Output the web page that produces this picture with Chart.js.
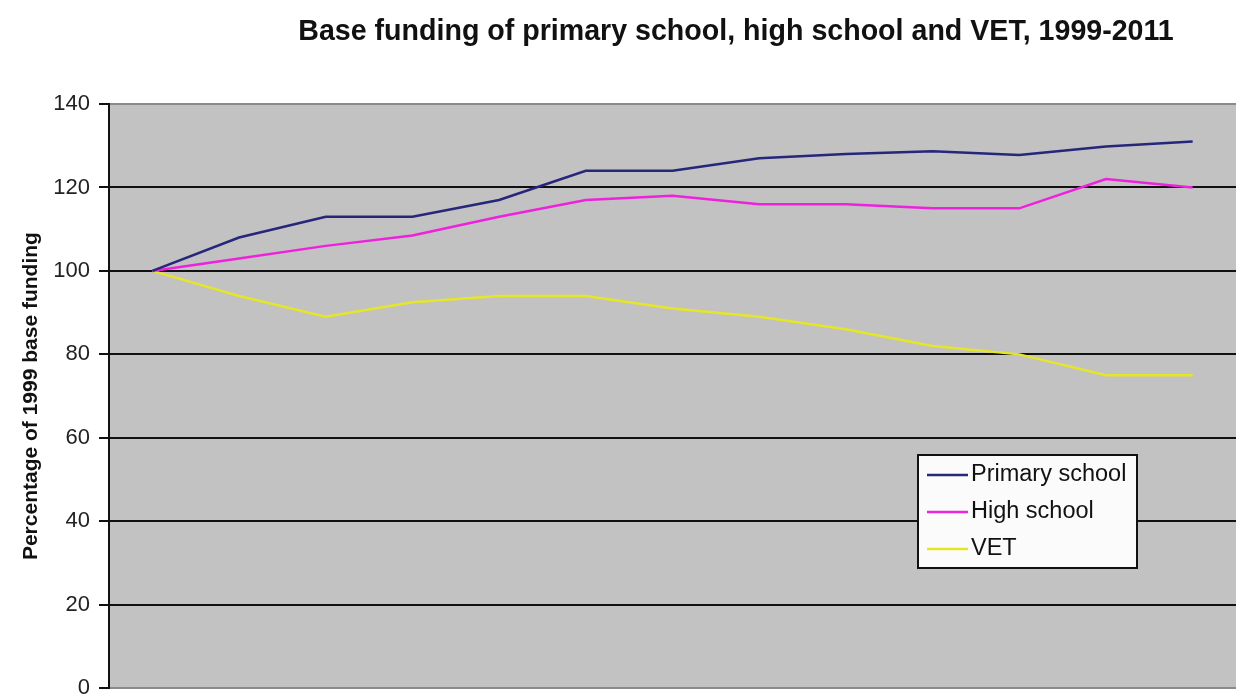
<!DOCTYPE html>
<html>
<head>
<meta charset="utf-8">
<script src="https://cdn.jsdelivr.net/npm/chart.js@4.4.1/dist/chart.umd.min.js"></script>
<style>
  html, body { margin: 0; padding: 0; background: #fff; overflow: hidden; }
  /* the original is cropped just under the 0 line, so the canvas runs a little past the window */
  #wrap { width: 1236px; height: 698px; overflow: hidden; }
</style>
</head>
<body>
<div id="wrap"><canvas id="chart" width="1236" height="706"></canvas></div>
<script>
// Data (index 1999 = 100)
var years = ['1999', '2000', '2001', '2002', '2003', '2004', '2005', '2006', '2007', '2008', '2009', '2010', '2011'];
var primarySchool = [100, 108, 113, 113, 117, 124, 124, 127, 128, 128.7, 127.8, 129.8, 131];
var highSchool = [100, 103, 106, 108.5, 113, 117, 118, 116, 116, 115, 115, 122, 120];
var vet = [100, 94, 89, 92.5, 94, 94, 91, 89, 86, 82, 80, 75, 75];
var yTicks = [0, 20, 40, 60, 80, 100, 120, 140];
var chartTitle = 'Base funding of primary school, high school and VET, 1999-2011';

const FONT = 'Arial, "Liberation Sans", sans-serif';

// Gray plot area + title (title sits off-centre like the original)
const plotBackground = {
    id: 'plotBackground',
    beforeDraw(chart) {
        const a = chart.chartArea;
        const ctx = chart.ctx;
        ctx.save();
        ctx.fillStyle = '#c2c2c2';
        ctx.fillRect(a.left, a.top, a.right - a.left, a.bottom - a.top);
        ctx.fillStyle = '#111';
        ctx.font = 'bold 28.6px ' + FONT;
        ctx.textAlign = 'center';
        ctx.textBaseline = 'alphabetic';
        ctx.fillText(chartTitle, 736, 40);
        ctx.restore();
    }
};

// Legend box drawn inside the plot, like the Excel one
const insideLegend = {
    id: 'insideLegend',
    afterDraw(chart) {
        const ctx = chart.ctx;
        const x = 918, y = 455, w = 219, h = 113;
        ctx.save();
        ctx.fillStyle = '#fbfbfb';
        ctx.fillRect(x, y, w, h);
        ctx.strokeStyle = '#111';
        ctx.lineWidth = 2;
        ctx.strokeRect(x, y, w, h);
        ctx.font = '23.5px ' + FONT;
        ctx.textBaseline = 'middle';
        chart.data.datasets.forEach((ds, i) => {
            const ly = y + 20 + i * 37;
            ctx.strokeStyle = ds.borderColor;
            ctx.lineWidth = 2.5;
            ctx.beginPath();
            ctx.moveTo(x + 9, ly);
            ctx.lineTo(x + 50, ly);
            ctx.stroke();
            ctx.fillStyle = '#111';
            ctx.fillText(ds.label, x + 53, ly);
        });
        ctx.restore();
    }
};

new Chart(document.getElementById('chart'), {
    type: 'line',
    data: {
        labels: years,
        datasets: [
            { label: 'Primary school', data: primarySchool, borderColor: '#26267a', borderWidth: 2.5 },
            { label: 'High school', data: highSchool, borderColor: '#ee22dd', borderWidth: 2.5 },
            { label: 'VET', data: vet, borderColor: '#e6e628', borderWidth: 2.5 }
        ]
    },
    options: {
        responsive: false,
        animation: false,
        elements: { point: { radius: 0 }, line: { tension: 0 } },
        layout: { padding: { top: 104, right: 0, bottom: 2, left: 0 } },
        scales: {
            x: {
                offset: true,
                display: false
            },
            y: {
                min: 0,
                max: 140,
                afterBuildTicks: function(scale) {
                    scale.ticks = yTicks.map(v => ({ value: v }));
                },
                afterFit: function(scale) { scale.width = 109; },
                border: { color: '#111', width: 2 },
                grid: {
                    color: ctx => (ctx.tick.value === 0 || ctx.tick.value === 140) ? '#8a8a8a' : '#111',
                    lineWidth: 2,
                    tickColor: '#111',
                    tickLength: 10
                },
                ticks: {
                    color: '#222',
                    padding: 9,
                    font: { family: FONT, size: 22, lineHeight: 0.8 }
                },
                title: {
                    display: true,
                    text: 'Percentage of 1999 base funding',
                    color: '#111',
                    padding: { top: 19, bottom: 0 },
                    font: { family: FONT, size: 21, weight: 'bold' }
                }
            }
        },
        plugins: {
            legend: { display: false },
            tooltip: { enabled: false },
            title: { display: false }
        }
    },
    plugins: [plotBackground, insideLegend]
});
</script>
</body>
</html>
